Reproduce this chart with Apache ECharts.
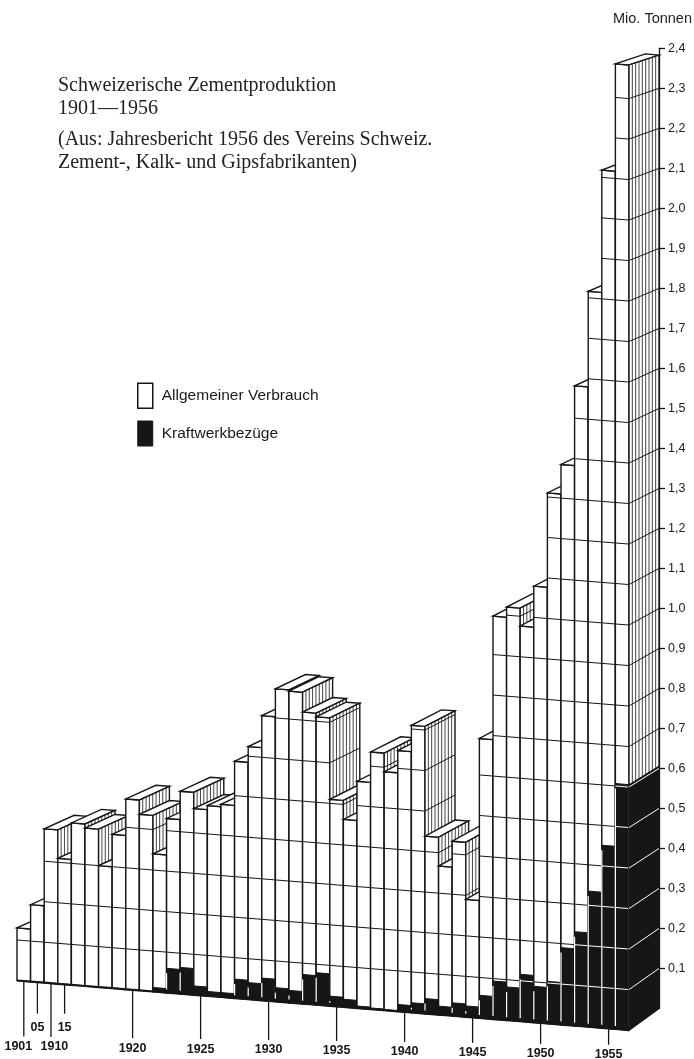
<!DOCTYPE html>
<html><head><meta charset="utf-8">
<script src="https://cdn.jsdelivr.net/npm/echarts@6/dist/echarts.min.js"></script>
<style>html,body{margin:0;padding:0;background:#fff}#c{width:694px;height:1059px}</style>
</head><body><div id="c"></div>
<script>
// ---- data ----
const years = ['1901','1905','1910','1915','1916','1917','1918','1919','1920','1921','1922','1923','1924','1925','1926','1927','1928','1929','1930','1931','1932','1933','1934','1935','1936','1937','1938','1939','1940','1941','1942','1943','1944','1945','1946','1947','1948','1949','1950','1951','1952','1953','1954','1955','1956'];
const allgemein = [0.13,0.19,0.38,0.31,0.40,0.39,0.30,0.38,0.47,0.435,0.33,0.37,0.435,0.438,0.459,0.465,0.538,0.583,0.648,0.738,0.739,0.648,0.632,0.486,0.444,0.555,0.632,0.587,0.627,0.685,0.401,0.346,0.399,0.263,0.634,0.901,0.938,0.86,0.988,1.206,1.193,1.348,1.481,1.667,1.777];
const kraftwerk = [0,0,0,0,0,0,0,0,0,0,0.01,0.06,0.065,0.022,0.011,0.011,0.047,0.041,0.055,0.034,0.03,0.072,0.079,0.024,0.019,0.005,0.003,0.002,0.017,0.024,0.037,0.021,0.032,0.027,0.056,0.094,0.082,0.116,0.089,0.104,0.19,0.232,0.335,0.451,0.606];
const yTicks = [0.1,0.2,0.3,0.4,0.5,0.6,0.7,0.8,0.9,1.0,1.1,1.2,1.3,1.4,1.5,1.6,1.7,1.8,1.9,2.0,2.1,2.2,2.3,2.4];
const tickYears = ['1901','1905','1910','1915','1920','1925','1930','1935','1940','1945','1950','1955'];
const tickLabels = ['1901','05','1910','15','1920','1925','1930','1935','1940','1945','1950','1955'];

// ---- layout / projection ----
const GL = 17, GW = 612, GTOP = 8.5, GH = 972;
const SLOPE = 0.081;
const DX = 30;
const INK = '#161616', WHITE = '#ffffff';
function depthSlope(x, v) {
  const t = Math.min(1, Math.max(0, (x - GL) / GW));
  return -0.45 + t * t * (-0.27 + 0.165 * v);
}
const yb0 = GTOP + GH + SLOPE * GW + DX * depthSlope(GL + GW, 0);
const yb24 = GTOP + SLOPE * GW + DX * depthSlope(GL + GW, 2.4);

const poly = (pts, fill, stroke, lw) => ({type:'polygon', shape:{points:pts}, style:{fill:fill, stroke:stroke, lineWidth:lw, lineJoin:'miter'}});
const seg = (p1, p2, stroke, lw) => ({type:'line', shape:{x1:p1[0],y1:p1[1],x2:p2[0],y2:p2[1]}, style:{stroke:stroke, lineWidth:lw}});

function renderBar(params, api) {
  const i = api.value(0), a = api.value(1), k = api.value(2), h = a + k;
  const base = api.coord([i, 0]);
  const unit = api.size([0, 1])[1];
  const bw = api.size([1, 0])[0];
  const xl = base[0] - bw / 2, xr = base[0] + bw / 2;
  const P = (x, v, z) => [x + z * DX, base[1] - v * unit + SLOPE * (x - GL) + z * DX * depthSlope(x, v)];
  const ch = [];
  // front face
  ch.push(poly([P(xl,0,0), P(xr,0,0), P(xr,h,0), P(xl,h,0)], WHITE, INK, 1.4));
  if (k > 0) ch.push(poly([P(xl,0,0), P(xr,0,0), P(xr,k,0), P(xl,k,0)], INK, INK, 1));
  yTicks.forEach(g => { if (g < h - 0.004) ch.push(seg(P(xl,g,0), P(xr,g,0), g < k ? WHITE : INK, 1)); });
  if (k * unit > 9) {
    [xl, xr].forEach(x => {
      const p0 = P(x, 0, 0), p1 = P(x, k, 0);
      ch.push(seg([x, p1[1] + 5], [x, p0[1] - 3], WHITE, 1.2));
    });
  }
  ch.push(seg(P(xl,0,0), P(xr,0,0), INK, 2.2));
  // top face
  ch.push(poly([P(xl,h,0), P(xr,h,0), P(xr,h,1), P(xl,h,1)], WHITE, INK, 1.4));
  // right side face
  ch.push(poly([P(xr,0,0), P(xr,0,1), P(xr,h,1), P(xr,h,0)], WHITE, INK, 1.4));
  if (k > 0) ch.push(poly([P(xr,0,0), P(xr,0,1), P(xr,k,1), P(xr,k,0)], INK, INK, 1));
  for (let j = 1; j <= 8; j++) {
    const z = j / 9;
    ch.push(seg(P(xr,k,z), P(xr,h,z), INK, 0.8));
  }
  yTicks.forEach(g => { if (g < h - 0.004) ch.push(seg(P(xr,g,0), P(xr,g,1), g < k ? WHITE : INK, 1)); });
  return {type:'group', children: ch};
}

const tickFont = 'bold 12.5px "Liberation Sans Narrow", "Liberation Sans", sans-serif';
function renderTick(params, api) {
  const idx = api.value(0), j = api.value(1);
  const c = api.coord([idx, 0]);
  const x = c[0];
  const y0 = c[1] + SLOPE * (x - GL);
  const label = tickLabels[j];
  const short = label.length < 4;
  const yEnd = short ? c[1] + 33 + 0.004 * (x - GL) : c[1] + 56 + 0.014 * (x - GL);
  const yLab = short ? yEnd + 13.5 : yEnd + 10;
  // keep long labels of closely spaced ticks apart
  let lx = x;
  if (!short) {
    const step = api.size([1, 0])[0];
    const prevLong = tickLabels.slice(0, j).filter(s => s.length === 4).length;
    const nextIdx = tickLabels.findIndex((s, q) => q > j && s.length === 4);
    if (nextIdx > 0 && years.indexOf(tickYears[nextIdx]) - idx < 4) lx = x - step * 0.4;
    else if (prevLong > 0) {
      const pj = tickLabels.map((s, q) => (q < j && s.length === 4) ? q : -1).filter(q => q >= 0).pop();
      if (idx - years.indexOf(tickYears[pj]) < 4) lx = x + step * 0.25;
    }
  }
  return {type:'group', children:[
    seg([x, y0], [x, yEnd], INK, 1.3),
    {type:'text', x: lx, y: yLab, style:{text: label, fill: INK, align:'center', verticalAlign:'middle', font: tickFont}}
  ]};
}

const chart = echarts.init(document.getElementById('c'), null, {renderer:'canvas'});
const serif = '"Liberation Serif", "DejaVu Serif", serif';
const sans = '"Liberation Sans", Arial, sans-serif';
chart.setOption({
  animation: false,
  backgroundColor: '#ffffff',
  title: [{
    text: 'Schweizerische Zementproduktion\n1901\u20141956',
    subtext: '(Aus: Jahresbericht 1956 des Vereins Schweiz.\nZement-, Kalk- und Gipsfabrikanten)',
    left: 58, top: 74.5, padding: 0, itemGap: 8,
    textStyle: {fontFamily: serif, fontSize: 20, fontWeight: 'normal', color: '#222', lineHeight: 23},
    subtextStyle: {fontFamily: serif, fontSize: 20, color: '#222', lineHeight: 23}
  }, {
    text: 'Mio. Tonnen', right: 2, top: 11, padding: 0,
    textStyle: {fontFamily: sans, fontSize: 14.5, fontWeight: 'normal', color: '#222'}
  }],
  legend: {
    orient: 'vertical', left: 137, top: 382.5, padding: 0, itemWidth: 15, itemHeight: 25, itemGap: 11.5,
    selectedMode: false, icon: 'rect',
    textStyle: {fontFamily: sans, fontSize: 15.5, color: '#1a1a1a', padding: [0,0,0,4]},
    data: [
      {name: 'Allgemeiner Verbrauch', itemStyle: {color: WHITE, borderColor: INK, borderWidth: 1.5}},
      {name: 'Kraftwerkbezüge', itemStyle: {color: INK, borderColor: INK, borderWidth: 1}}
    ]
  },
  grid: [
    {left: GL, width: GW, top: GTOP, height: GH},
    {left: GL + GW + DX - 20, width: 20, top: yb24, height: yb0 - yb24}
  ],
  xAxis: [
    {gridIndex: 0, type: 'category', data: years, show: false},
    {gridIndex: 1, type: 'value', min: 0, max: 1, show: false}
  ],
  yAxis: [
    {gridIndex: 0, type: 'value', min: 0, max: 2.4, show: false},
    {gridIndex: 1, type: 'value', min: 0, max: 2.4, interval: 0.1, position: 'right',
      axisLine: {show: true, onZero: false, lineStyle: {color: INK, width: 1.3}},
      axisTick: {show: true, inside: false, length: 6, customValues: yTicks, lineStyle: {color: INK, width: 1.3}},
      axisLabel: {show: true, margin: 9, customValues: yTicks, fontFamily: sans, fontSize: 12.5, color: '#222',
        formatter: v => (v < 0.05 ? '' : Number(v).toFixed(1).replace('.', ','))},
      splitLine: {show: false}
    }
  ],
  series: [
    {name: 'Allgemeiner Verbrauch', type: 'bar', data: [], itemStyle: {color: WHITE, borderColor: INK, borderWidth: 1.5}},
    {name: 'Kraftwerkbezüge', type: 'bar', data: [], itemStyle: {color: INK}},
    {type: 'custom', name: 'bars', xAxisIndex: 0, yAxisIndex: 0, clip: false, z: 3,
      renderItem: renderBar,
      data: years.map((y, i) => [i, allgemein[i], kraftwerk[i]])},
    {type: 'custom', name: 'ticks', xAxisIndex: 0, yAxisIndex: 0, clip: false, z: 2,
      renderItem: renderTick,
      data: tickYears.map((y, j) => [years.indexOf(y), j])}
  ]
});
</script></body></html>
